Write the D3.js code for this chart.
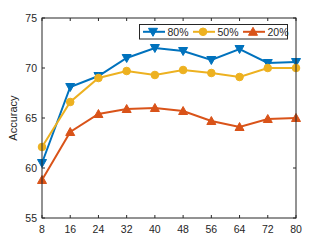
<!DOCTYPE html>
<html><head><meta charset="utf-8">
<script src="https://cdn.jsdelivr.net/npm/d3@7"></script>
<style>body{margin:0;background:#fff}svg{display:block}text{font-family:"Liberation Sans",Arial,sans-serif}</style>
</head><body>
<script>
const xs = [8,16,24,32,40,48,56,64,72,80];
const s80 = [60.5,68.1,69.2,71.0,72.0,71.7,70.8,71.9,70.5,70.6];
const s50 = [62.1,66.6,69.0,69.7,69.3,69.8,69.5,69.1,70.0,70.0];
const s20 = [58.8,63.6,65.4,65.9,66.0,65.7,64.7,64.1,64.9,65.0];
const yTicks = [55,60,65,70,75];
const seriesNames = ["80%","50%","20%"];

const W=327,H=245, L=42,R=296,T=18,B=218;
const svg=d3.select("body").append("svg").attr("width",W).attr("height",H);
const x=d3.scaleLinear().domain([8,80]).range([L,R]);
const y=d3.scaleLinear().domain([55,75]).range([B,T]);
const tl=3;
const g=svg.append("g");
xs.forEach(v=>{
  g.append("line").attr("x1",x(v)).attr("x2",x(v)).attr("y1",B).attr("y2",B-tl).attr("stroke","#262626");
  g.append("line").attr("x1",x(v)).attr("x2",x(v)).attr("y1",T).attr("y2",T+tl).attr("stroke","#262626");
  g.append("text").attr("x",x(v)).attr("y",B+15).attr("text-anchor","middle").attr("font-size",10.5).attr("fill","#262626").text(v);
});
yTicks.forEach(v=>{
  g.append("line").attr("x1",L).attr("x2",L+tl).attr("y1",y(v)).attr("y2",y(v)).attr("stroke","#262626");
  g.append("line").attr("x1",R).attr("x2",R-tl).attr("y1",y(v)).attr("y2",y(v)).attr("stroke","#262626");
  g.append("text").attr("x",L-5).attr("y",y(v)+4).attr("text-anchor","end").attr("font-size",10.5).attr("fill","#262626").text(v);
});
g.append("text").attr("transform",`translate(17,${(T+B)/2}) rotate(-90)`).attr("text-anchor","middle").attr("font-size",11).attr("fill","#262626").text("Accuracy");

const cols=["#0072BD","#EDB120","#D95319"];
const data=[s80,s50,s20];
const line=d3.line().x((d,i)=>x(xs[i])).y(d=>y(d));
function marker(sel,k,cx,cy,c){
  if(k===0) sel.append("path").attr("d",`M${cx-4.5},${cy-3.5}L${cx+4.5},${cy-3.5}L${cx},${cy+4.5}Z`).attr("fill",c).attr("stroke",c);
  else if(k===1) sel.append("circle").attr("cx",cx).attr("cy",cy).attr("r",3.8).attr("fill",c).attr("stroke",c);
  else sel.append("path").attr("d",`M${cx-4.5},${cy+3.5}L${cx+4.5},${cy+3.5}L${cx},${cy-4.5}Z`).attr("fill",c).attr("stroke",c);
}
data.forEach((s,k)=>{
  svg.append("path").datum(s).attr("d",line).attr("fill","none").attr("stroke",cols[k]).attr("stroke-width",2);
  s.forEach((v,i)=>marker(svg,k,x(xs[i]),y(v),cols[k]));
});
svg.append("rect").attr("x",L).attr("y",T).attr("width",R-L).attr("height",B-T).attr("fill","none").attr("stroke","#262626").attr("stroke-width",1);

const lg=svg.append("g");
lg.append("rect").attr("x",139.5).attr("y",24.5).attr("width",148).attr("height",14.5).attr("fill","#fff").attr("stroke","#262626").attr("stroke-width",1);
const lx=[143,193,243];
seriesNames.forEach((n,k)=>{
  const x0=lx[k], cy=31.8;
  lg.append("line").attr("x1",x0).attr("x2",x0+22).attr("y1",cy).attr("y2",cy).attr("stroke",cols[k]).attr("stroke-width",2);
  marker(lg,k,x0+10,cy,cols[k]);
  lg.append("text").attr("x",x0+24.5).attr("y",cy+3.8).attr("font-size",10.5).attr("fill","#262626").text(n);
});
</script>
</body></html>
